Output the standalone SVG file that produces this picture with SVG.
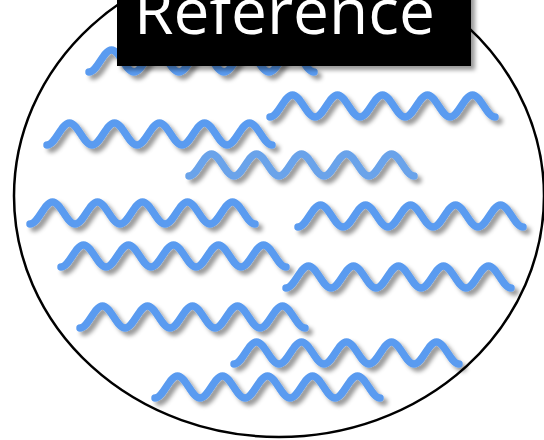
<svg xmlns="http://www.w3.org/2000/svg" xmlns:xlink="http://www.w3.org/1999/xlink" width="544" height="440" viewBox="0 0 544 440">
  <style>
    .wave { fill: none; stroke: #5a9bf0; stroke-width: 7.5; stroke-linecap: round; stroke-linejoin: round; }
    .wave.light { stroke: #6aa3ea; }
    .label { font-family: "Open Sans", "Liberation Sans", sans-serif; font-size: 64px; fill: #ffffff; }
  </style>
  <defs>
    <filter id="shadow" x="-10%" y="-30%" width="130%" height="180%">
      <feGaussianBlur in="SourceAlpha" stdDeviation="2.2"/>
      <feOffset dx="3.5" dy="4" result="b"/>
      <feFlood flood-color="#000" flood-opacity="0.4"/>
      <feComposite in2="b" operator="in"/>
      <feMerge><feMergeNode/><feMergeNode in="SourceGraphic"/></feMerge>
    </filter>
    <path id="w" d="M0,0c8.2,0 14.3,-22 22.5,-22s14.3,22 22.5,22s14.3,-22 22.5,-22s14.3,22 22.5,22s14.3,-22 22.5,-22s14.3,22 22.5,22s14.3,-22 22.5,-22s14.3,22 22.5,22s14.3,-22 22.5,-22s14.3,22 22.5,22"/>
  </defs>
  <rect width="544" height="440" fill="#fff"/>
  <ellipse id="circle" cx="279" cy="196" rx="265" ry="241" fill="none" stroke="#000" stroke-width="2.5"/>
  <g id="waves" filter="url(#shadow)">
    <use id="wave1" class="wave" href="#w" xlink:href="#w" x="89" y="72"/>
    <use id="wave2" class="wave" href="#w" xlink:href="#w" x="270" y="117"/>
    <use id="wave3" class="wave" href="#w" xlink:href="#w" x="47" y="145"/>
    <use id="wave4" class="wave light" href="#w" xlink:href="#w" x="189" y="176"/>
    <use id="wave5" class="wave" href="#w" xlink:href="#w" x="30" y="224"/>
    <use id="wave6" class="wave" href="#w" xlink:href="#w" x="298" y="227"/>
    <use id="wave7" class="wave" href="#w" xlink:href="#w" x="61" y="267"/>
    <use id="wave8" class="wave" href="#w" xlink:href="#w" x="286" y="288"/>
    <use id="wave9" class="wave" href="#w" xlink:href="#w" x="80" y="328"/>
    <use id="wave10" class="wave" href="#w" xlink:href="#w" x="234" y="364"/>
    <use id="wave11" class="wave" href="#w" xlink:href="#w" x="155" y="398"/>
  </g>
  <g id="title" filter="url(#shadow)">
    <rect x="117" y="-10" width="354" height="76" fill="#000"/>
    <text class="label" x="134" y="34">Reference</text>
  </g>
</svg>
